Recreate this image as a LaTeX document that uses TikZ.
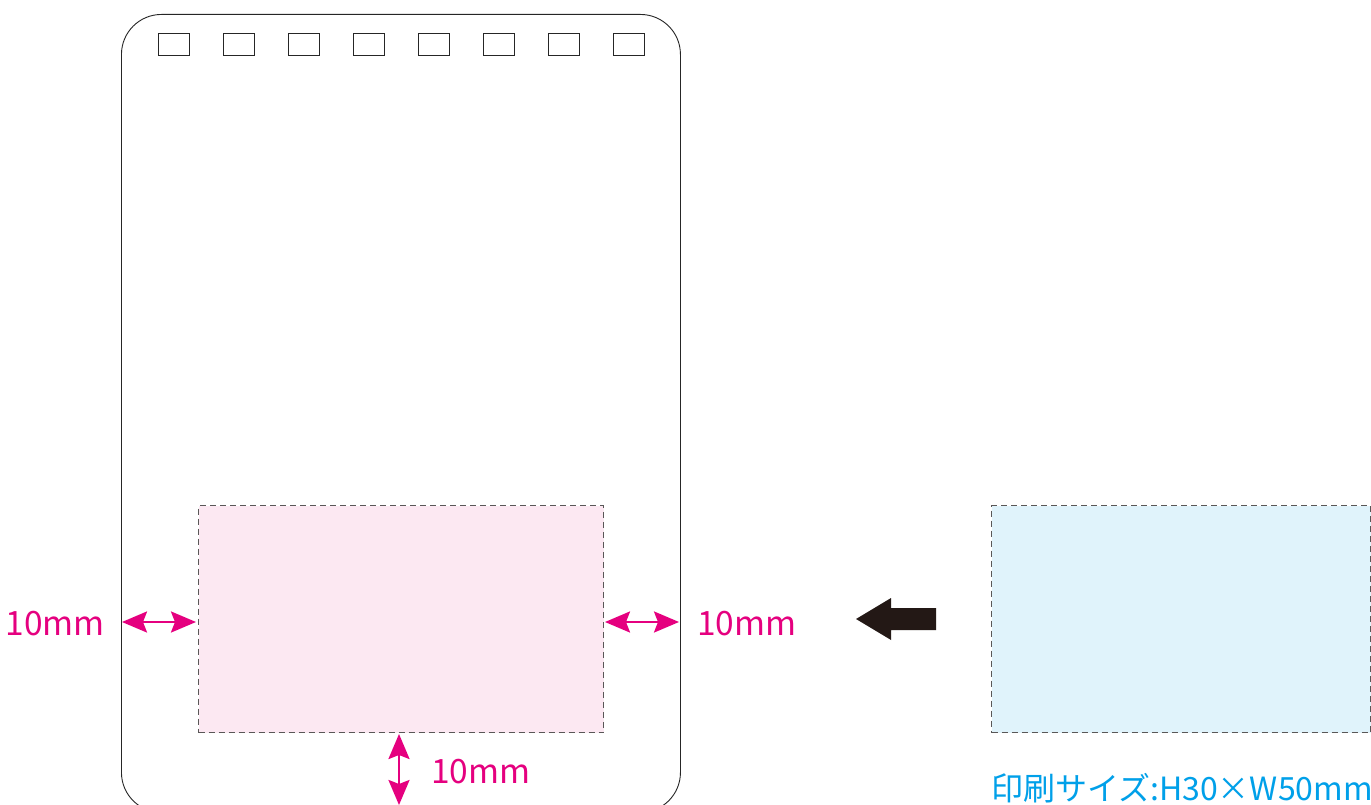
\documentclass[tikz,border=0pt]{standalone}
\usepackage{fontspec}
\setmainfont{Noto Sans CJK JP}
\usetikzlibrary{arrows.meta}
\definecolor{mag}{HTML}{E5007F}
\definecolor{cya}{HTML}{00A0E9}
\definecolor{pinkfill}{HTML}{FCE8F2}
\definecolor{bluefill}{HTML}{E0F3FB}
\definecolor{dashgray}{HTML}{595757}
\definecolor{jblack}{HTML}{231815}
\tikzset{
  outline/.style={draw=black!85, line width=0.9pt},
  hole/.style={draw=black!85, line width=0.9pt, minimum width=31pt, minimum height=22pt, inner sep=0pt, anchor=north west},
  area/.style={draw=dashgray, line width=1.2pt, dash pattern=on 6pt off 4pt, inner sep=0pt, anchor=north west},
  dimarrow/.style={draw=mag, line width=2.5pt, {Stealth[length=25pt,width=21pt,inset=4pt]}-{Stealth[length=25pt,width=21pt,inset=4pt]}},
  dimlabel/.style={text=mag, font=\fontsize{33.5}{38}\selectfont, inner sep=0pt},
}
\begin{document}
\begin{tikzpicture}[x=1pt,y=-1pt]
\useasboundingbox (0,0) rectangle (1371,805);
\fill[white] (0,0) rectangle (1371,805);
% card outline
\node[outline, rounded corners=40pt, minimum width=559pt, minimum height=798pt, inner sep=0pt, anchor=north west] (card) at (121,14) {};
% holes
\foreach \i in {0,...,7} {
  \node[hole] (hole\i) at ({158+65*\i},33) {};
}
% print areas
\node[area, fill=pinkfill, minimum width=405pt, minimum height=227pt] (pink) at (198,505) {};
\node[area, fill=bluefill, minimum width=379pt, minimum height=227pt] (blue) at (991,505) {};
% dimension arrows
\coordinate (lA) at (122,622);
\coordinate (lB) at (196,622);
\coordinate (rA) at (605,622);
\coordinate (rB) at (679,622);
\draw[dimarrow] (lA) -- (lB);
\draw[dimarrow] (rA) -- (rB);
\coordinate (bA) at (399,734);
\coordinate (bB) at (399,805);
\draw[dimarrow] (bA) -- (bB);
% labels
\node[dimlabel, anchor=base east] (lL) at (105,635) {10mm};
\node[dimlabel, anchor=base west] (rL) at (697,635) {10mm};
\node[dimlabel, anchor=base west] (bL) at (431,783) {10mm};
% black arrow
\fill[jblack] (856,619) -- (891,598) -- (891,608) -- (936,608) -- (936,630) -- (891,630) -- (891,640) -- cycle;
% size label
\node[text=cya, font=\fontsize{32}{36}\selectfont, inner sep=0pt, anchor=base west] (size) at (991,800) {印刷サイズ:H30×W50mm};
\end{tikzpicture}
\end{document}
